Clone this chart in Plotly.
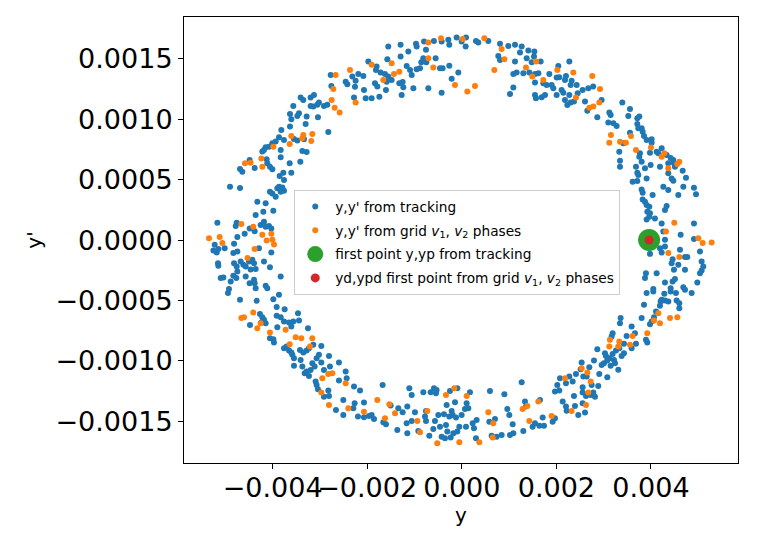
import numpy as np
import plotly.graph_objects as go

# values, in units of 1e-3 (m, rad)
# y,y' from tracking
y_track = [
    -1.976, -2.772, -2.314, -2.187, -2.082, -2.455, -2.420, -2.244, -2.258, -2.758,
    -2.279, -2.068, -2.032, -3.407, -3.351, -3.196, -3.125, -3.196, -3.140, -3.055,
    -3.020, -2.914, -2.843, -3.562, -3.442, -3.477, -3.632, -3.280, -3.041, -3.604,
    -3.301, -2.822, -3.632, -3.815, -3.759, -3.548, -3.477, -3.336, -3.935, -3.864,
    -4.005, -4.076, -4.146, -4.182, -4.217, -3.829, -3.371, -3.280, -3.414, -4.485,
    -4.126, -4.112, -4.056, -4.005, -3.829, -4.689, -4.640, -4.379, -3.639, -3.604,
    -3.773, -3.851, -3.759, -3.864, -3.900, -3.794, -3.759, -3.829, -4.056, -4.005,
    -3.935, -4.900, -4.689, -4.323, -4.146, -4.196, -3.985, -4.358, -5.168, -4.759,
    -4.780, -4.485, -4.253, -4.182, -4.146, -4.076, -4.027,
    # top
    -1.554, -1.294, -0.968, -0.954, -0.798, -0.589, -0.426, -0.285, -0.264, -0.109,
    0.089, -0.003, 0.082, 0.300, 0.349, 0.561, 0.808, 0.984, 1.125, 1.266,
    0.772, 0.808, 1.125, 1.231, 1.372, 1.407, 1.534, 1.527, 1.478, 1.668,
    1.090, 1.160, 1.301, 1.428, 1.548, 1.619, 1.851, 1.548, 1.724, 1.795,
    1.090, 1.020, 1.548, 1.569, 1.689, 1.760, -1.574, -1.800, -1.815, -1.716,
    -1.624, -1.554, -1.483, -1.588, -1.836, -1.786, -1.603, -1.321, -1.250, -1.236,
    -1.271, -1.906, -1.743, -1.294, -1.130, -1.165, -1.094, -1.059, -0.954, -0.884,
    -0.814, -0.757, -0.856, -0.750, -0.553, -0.461, -0.405, -0.264, -0.214, -0.073,
    -1.024, -0.707, -0.426,
    # top right
    2.274, 2.041, 2.006, 2.062, 2.182, 2.203, 2.323, 2.302, 2.429, 1.900,
    1.935, 2.006, 2.111, 2.147, 2.274, 2.450, 2.555, 2.675, 2.778, 2.182,
    2.231, 2.302, 2.372, 2.605, 2.957, 2.654, 2.865, 3.119, 3.147, 3.394,
    3.556, 3.521, 3.711, 3.754, 3.098, 3.206, 3.274, 3.711, 3.732, 3.803,
    3.824, 3.853, 3.556, 3.908, 4.014, 4.014, 3.415, 3.330, 3.767, 3.753,
    3.803, 3.979, 4.120, 4.155, 4.226, 4.331, 4.416, 4.472, 4.366, 4.486,
    3.345, 3.345, 3.683, 3.873, 3.993, 4.190, 3.711, 3.732, 3.908, 3.612,
    3.711, 4.366, 4.437, 4.472, 4.507, 4.670, 4.740, 4.261, 4.366, 4.684,
    4.909, 4.952, 4.578, 3.803, 3.824, 4.035, 3.824, 3.873, 3.908, 3.964,
    4.296, 4.331, 3.923, 3.979, 3.908, 3.964, 4.084, 4.226, 4.909,
    # bottom left
    -4.745, -4.590, -4.379, -5.224, -5.252, -5.182, -5.147, -5.013, -4.830, -4.745,
    -4.815, -5.154, -5.147, -4.815, -4.759, -4.675, -4.618, -4.569, -4.499, -4.428,
    -4.393, -4.464, -4.358, -4.288, -4.182, -4.027, -4.056, -3.829, -4.745, -4.830,
    -4.766, -5.098, -5.041, -4.886, -4.569, -4.393, -4.379, -4.485, -4.358, -4.146,
    -4.112, -4.922, -4.943, -4.689, -4.337, -3.985, -3.865, -3.914, -3.745, -4.267,
    -4.217, -4.182, -4.238, -4.146, -4.478, -3.914, -3.829, -3.759, -3.653, -3.604,
    -3.562, -3.463, -3.442, -3.900, -3.252, -4.056, -3.985, -3.971, -3.759, -3.703,
    -3.653, -3.583, -3.548, -3.548, -3.604, -3.421, -3.351, -3.280, -3.231, -3.140,
    -2.970, -3.407, -3.371, -3.322, -3.231, -3.280, -3.196, -3.160, -3.111, -3.069,
    -3.020, -2.970, -2.914, -2.808, -2.787, -2.597, -2.455, -2.434, -2.597, -3.090,
    -3.069, -3.041, -2.822, -2.808, -2.914, -2.279, -2.152, -2.505, -2.265, -2.068,
    -2.660, -2.293, -2.505, -2.195, -2.068, -1.962,
    # bottom
    -1.906, -1.856, -1.673, -1.659, -1.603, -1.504, -1.363, -1.342, -1.250, -1.166,
    -1.152, -1.152, -1.109, -1.059, -1.059, -0.990, -0.919, -0.813, -0.778, -0.757,
    -0.757, -0.687, -0.658, -0.602, -0.588, -0.546, -0.532, -0.567, -0.496, -0.461,
    -0.426, -0.377, -0.355, -0.334, -0.320, -0.306, -0.264, -0.250, -0.235, -0.214,
    -0.193, -0.178, -0.144, -0.122, -0.094, -0.094, -0.052, -0.003, 0.067, 0.089,
    0.103, 0.138, 0.173, 0.230, 0.258, 0.300, 0.314, 0.596, 0.582, 0.631,
    0.702, 0.737, 0.843, 0.900, 0.963, 1.005, 1.019, 1.090, 1.076, 1.266,
    1.301, 1.336, 1.357, 1.498, 1.548, 1.654, 1.640, 1.710, 1.738,
    # bottom right
    4.261, 4.296, 4.296, 4.190, 3.979, 4.226, 4.458, 4.437, 4.486, 4.578,
    4.613, 4.719, 4.768, 4.627, 4.909, 5.036, 5.071, 5.106, 5.071, 5.036,
    4.719, 3.894, 3.873, 4.120, 4.296, 4.458, 4.507, 4.416, 4.416, 4.528,
    4.684, 4.719, 4.860, 4.980, 3.908, 4.049, 4.049, 4.282, 4.226, 4.204,
    4.296, 4.367, 4.543, 4.599, 4.599, 4.190, 3.852, 4.106, 4.064, 4.014,
    3.979, 3.803, 3.358, 3.345, 3.591, 3.661, 3.485, 3.894, 3.922, 3.683,
    3.591, 3.429, 3.330, 3.189, 3.168, 3.429, 3.380, 3.260, 3.189, 3.119,
    3.218, 3.239, 3.027, 3.048, 3.006, 2.957, 3.076, 3.309, 3.147, 2.865,
    2.795, 2.907, 3.077, 2.534, 2.414, 2.513, 2.570, 2.640, 2.696, 2.746,
    2.886, 2.273, 2.203, 2.077, 2.020, 2.062, 1.970, 2.344, 2.555, 2.555,
    2.626, 2.725, 2.816, 2.781, 2.372, 2.133, 2.203, 2.217, 2.393, 2.463,
    2.605, 2.555, 1.921, 1.970,
]
yp_track = [
    1.477, 1.367, 1.353, 1.375, 1.358, 1.311, 1.289, 1.319, 1.269, 1.275,
    1.179, 1.242, 1.173, 1.179, 1.160, 1.179, 1.201, 1.110, 1.105, 1.119,
    1.138, 1.110, 1.119, 1.110, 1.049, 1.027, 1.044, 1.022, 1.016, 0.999,
    0.961, 0.895, 0.939, 0.911, 0.828, 0.837, 0.823, 0.834, 0.815, 0.850,
    0.801, 0.773, 0.768, 0.746, 0.732, 0.746, 0.737, 0.729, 0.649, 0.663,
    0.668, 0.635, 0.607, 0.585, 0.685, 0.588, 0.566, 0.596, 0.635, 0.558,
    0.558, 0.530, 0.497, 0.442, 0.428, 0.436, 0.408, 0.400, 0.400, 0.386,
    0.359, 0.442, 0.431, 0.317, 0.304, 0.234, 0.243, 0.207, 0.143, 0.143,
    0.116, 0.096, 0.124, 0.152, 0.110, 0.116, 0.096,
    # top
    1.602, 1.616, 1.624, 1.602, 1.643, 1.648, 1.643, 1.657, 1.616, 1.676,
    1.676, 1.643, 1.602, 1.648, 1.635, 1.648, 1.624, 1.607, 1.616, 1.602,
    1.524, 1.491, 1.477, 1.552, 1.505, 1.568, 1.560, 1.519, 1.472, 1.477,
    1.375, 1.386, 1.381, 1.386, 1.375, 1.381, 1.375, 1.303, 1.298, 1.283,
    1.262, 1.209, 1.201, 1.173, 1.182, 1.201, 1.497, 1.436, 1.408, 1.386,
    1.375, 1.353, 1.325, 1.311, 1.298, 1.270, 1.242, 1.298, 1.309, 1.265,
    1.201, 1.173, 1.187, 1.519, 1.560, 1.441, 1.408, 1.367, 1.414, 1.422,
    1.505, 1.574, 1.472, 1.472, 1.505, 1.422, 1.422, 1.442, 1.334, 1.386,
    1.256, 1.256, 1.220,
    # top right
    1.477, 1.441, 1.345, 1.348, 1.325, 1.358, 1.319, 1.284, 1.284, 1.284,
    1.256, 1.201, 1.242, 1.220, 1.201, 1.215, 1.242, 1.256, 1.270, 1.160,
    1.118, 1.138, 1.146, 1.146, 1.160, 1.071, 1.016, 1.055, 1.035, 1.138,
    1.085, 1.027, 1.008, 1.022, 0.972, 0.966, 0.944, 0.961, 0.925, 0.925,
    0.897, 0.861, 0.889, 0.828, 0.834, 0.806, 0.801, 0.731, 0.718, 0.690,
    0.649, 0.723, 0.731, 0.718, 0.759, 0.704, 0.679, 0.663, 0.635, 0.635,
    0.657, 0.607, 0.607, 0.594, 0.621, 0.607, 0.558, 0.538, 0.510, 0.483,
    0.488, 0.552, 0.510, 0.491, 0.607, 0.574, 0.516, 0.441, 0.414, 0.441,
    0.433, 0.380, 0.372, 0.419, 0.392, 0.372, 0.336, 0.317, 0.290, 0.276,
    0.248, 0.281, 0.234, 0.221, 0.171, 0.193, 0.179, 0.138, 0.138,
    # bottom left
    0.025, 0.052, 0.072, -0.039, -0.086, -0.102, -0.075, -0.067, -0.108, -0.094,
    -0.031, -0.191, -0.213, -0.191, -0.218, -0.177, -0.205, -0.218, -0.177, -0.163,
    -0.191, -0.243, -0.240, -0.067, -0.177, -0.102, -0.224, -0.301, -0.260, -0.296,
    -0.315, -0.315, -0.310, -0.343, -0.301, -0.329, -0.357, -0.357, -0.398, -0.378,
    -0.398, -0.406, -0.439, -0.495, -0.503, -0.489, -0.453, -0.555, -0.572, -0.611,
    -0.638, -0.660, -0.683, -0.688, -0.702, -0.627, -0.638, -0.674, -0.683, -0.716,
    -0.674, -0.605, -0.666, -0.721, -0.729, -0.812, -0.821, -0.848, -0.895, -0.881,
    -0.915, -0.950, -0.978, -1.041, -0.931, -0.909, -0.931, -0.915, -0.895, -0.867,
    -0.876, -0.992, -1.047, -1.102, -1.124, -1.088, -1.075, -1.019, -1.047, -0.978,
    -0.950, -1.014, -1.075, -0.959, -1.047, -1.014, -1.088, -1.144, -1.163, -1.171,
    -1.199, -1.235, -1.246, -1.290, -1.296, -1.212, -1.246, -1.323, -1.351, -1.345,
    -1.406, -1.392, -1.447, -1.461, -1.467, -1.456,
    # bottom
    -1.448, -1.481, -1.199, -1.508, -1.525, -1.370, -1.572, -1.392, -1.425, -1.516,
    -1.599, -1.378, -1.227, -1.282, -1.497, -1.425, -1.580, -1.260, -1.461, -1.414,
    -1.497, -1.619, -1.260, -1.563, -1.227, -1.268, -1.240, -1.497, -1.448, -1.544,
    -1.627, -1.442, -1.641, -1.530, -1.365, -1.585, -1.461, -1.249, -1.635, -1.414,
    -1.448, -1.599, -1.342, -1.469, -1.227, -1.585, -1.544, -1.448, -1.398, -1.544,
    -1.351, -1.392, -1.260, -1.516, -1.558, -1.641, -1.489, -1.249, -1.503, -1.619,
    -1.481, -1.627, -1.613, -1.276, -1.398, -1.448, -1.613, -1.599, -1.525, -1.177,
    -1.580, -1.337, -1.378, -1.544, -1.516, -1.323, -1.536, -1.469, -1.536,
    # bottom right
    0.071, 0.002, -0.053, -0.067, -0.114, -0.103, -0.158, -0.191, -0.246, -0.205,
    -0.080, -0.141, -0.141, 0.044, 0.008, -0.094, -0.177, -0.218, -0.252, -0.274,
    -0.246, -0.274, -0.315, -0.274, -0.351, -0.343, -0.323, -0.398, -0.425, -0.439,
    -0.390, -0.412, -0.439, -0.351, -0.439, -0.406, -0.425, -0.445, -0.494, -0.508,
    -0.500, -0.508, -0.500, -0.522, -0.564, -0.544, -0.536, -0.591, -0.638, -0.674,
    -0.696, -0.646, -0.646, -0.688, -0.716, -0.771, -0.793, -0.826, -0.848, -0.859,
    -0.895, -0.859, -0.895, -0.771, -0.798, -0.936, -0.959, -0.914, -0.942, -0.978,
    -0.992, -1.019, -0.936, -0.959, -1.019, -1.033, -0.997, -1.074, -1.041, -0.903,
    -0.997, -1.108, -1.135, -1.014, -1.108, -1.069, -1.130, -1.130, -1.053, -1.199,
    -1.207, -1.130, -1.185, -1.143, -1.199, -1.246, -1.254, -1.171, -1.218, -1.262,
    -1.290, -1.282, -1.296, -1.262, -1.290, -1.337, -1.378, -1.412, -1.373, -1.447,
    -1.428, -1.351, -1.503, -1.475,
]

# y,y' from grid v1, v2 phases
y_grid = [
    -2.667, -2.364, -2.716, -2.751, -2.244, -2.688, -2.582, -3.604, -3.351, -3.371,
    -3.160, -3.182, -3.639, -3.985, -4.584, -4.464, -4.238, -4.217, -4.661, -4.408,
    -0.707, -0.440, 0.018, 0.476, 0.843, 0.900, -0.707, -0.602, -1.483, -1.906,
    -1.434, -1.321, -1.659, -0.144, 0.117, 0.279, 0.688, 1.357, 1.491, 1.569,
    1.724,
    2.020, 2.358, 2.760, 2.922, 2.908, 2.781, 2.696, 2.414, 3.154, 3.119,
    3.345, 3.471, 3.577, 3.683, 4.000, 4.226, 4.282, 4.599, 4.557, 4.366,
    4.493,
    -5.344, -5.119, -5.063, -4.217, -4.027, -4.126, -4.005, -3.970, -4.379, -4.530,
    -4.661, -4.604, -4.408, -4.253, -4.323, -4.056, -3.724, -3.512, -3.393, -3.160,
    -3.209, -3.639, -2.822, -2.737, -2.949, -2.455, -2.970, -2.808, -2.399, -2.068,
    -1.786, -1.624, -1.532, -1.412, -0.940, -0.884, -0.729, -0.518, -0.334, -0.158,
    -0.052, 0.103, 0.371, 0.561, 0.666, 0.652, 1.287, 1.385, 1.428, 1.618,
    4.317, 4.367, 4.599, 5.001, 5.093, 5.283, 4.064, 4.156, 4.190, 4.402,
    4.557, 3.922, 3.133, 3.119, 3.330, 3.309, 3.612, 3.556, 2.534, 2.654,
    2.725, 2.675, 2.626, 2.323, 2.182, 1.900,
]
yp_grid = [
    1.367, 1.408, 1.251, 1.160, 1.138, 1.096, 1.055, 0.861, 0.870, 0.842,
    0.878, 0.820, 0.795, 0.773, 0.635, 0.640, 0.676, 0.607, 0.132, 0.110,
    1.635, 1.671, 1.663, 1.671, 1.582, 1.497, 1.505, 1.428, 1.464, 1.450,
    1.375, 1.392, 1.325, 1.284, 1.229, 1.276, 1.408, 1.428, 1.353, 1.477,
    1.325,
    1.408, 1.386, 1.358, 1.251, 1.138, 1.105, 1.096, 1.179, 0.870, 0.806,
    0.814, 0.806, 0.861, 0.746, 0.765, 0.690, 0.718, 0.649, 0.630, 0.594,
    0.143,
    0.016, 0.025, -0.025, 0.044, 0.052, -0.003, 0.002, -0.036, -0.075, -0.149,
    -0.646, -0.638, -0.600, -0.688, -0.729, -0.765, -0.743, -0.804, -0.812, -0.812,
    -0.881, -0.862, -1.108, -1.102, -1.144, -1.185, -1.262, -1.364, -1.392, -1.420,
    -1.323, -1.475, -1.359, -1.434, -1.497, -1.591, -1.414, -1.682, -1.282, -1.227,
    -1.674, -1.290, -1.674, -1.425, -1.516, -1.635, -1.398, -1.373, -1.497, -1.337,
    0.071, -0.108, -0.141, 0.016, -0.025, -0.020, -0.666, -0.605, -0.688, -0.646,
    -0.638, -0.771, -0.826, -0.881, -0.840, -0.881, -0.793, -0.867, -1.061, -1.097,
    -1.171, -1.262, -1.364, -1.414, -1.143, -1.456,
]

# first points
y_first_track = [3.96]
yp_first_track = [0.0]
y_first_grid = [3.96]
yp_first_grid = [0.0]

x_ticks = [-0.004, -0.002, 0.0, 0.002, 0.004]
x_ticklabels = ["\u22120.004", "\u22120.002", "0.000", "0.002", "0.004"]
y_ticks = [-0.0015, -0.0010, -0.0005, 0.0, 0.0005, 0.0010, 0.0015]
y_ticklabels = ["\u22120.0015", "\u22120.0010", "\u22120.0005", "0.0000",
                "0.0005", "0.0010", "0.0015"]

scale = 1e-3
fnt = "DejaVu Sans"

fig = go.Figure()
fig.add_trace(go.Scatter(
    x=np.array(y_track) * scale, y=np.array(yp_track) * scale,
    mode="markers", name="y,y' from tracking", legendgroup="a",
    marker=dict(color="#1f77b4", size=6, line=dict(width=0)),
))
fig.add_trace(go.Scatter(
    x=np.array(y_grid) * scale, y=np.array(yp_grid) * scale,
    mode="markers", name="y,y' from grid <i>v</i><sub>1</sub>, <i>v</i><sub>2</sub> phases",
    legendgroup="b",
    marker=dict(color="#ff7f0e", size=6, line=dict(width=0)),
))
fig.add_trace(go.Scatter(
    x=np.array(y_first_track) * scale, y=np.array(yp_first_track) * scale,
    mode="markers", name="first point y,yp from tracking", legendgroup="c",
    marker=dict(color="#2ca02c", size=22, line=dict(width=0)),
))
fig.add_trace(go.Scatter(
    x=np.array(y_first_grid) * scale, y=np.array(yp_first_grid) * scale,
    mode="markers", name="yd,ypd first point from grid <i>v</i><sub>1</sub>, <i>v</i><sub>2</sub> phases",
    legendgroup="d",
    marker=dict(color="#d62728", size=9, line=dict(width=0)),
))

axis_style = dict(
    showline=True, linecolor="black", linewidth=1, mirror=True,
    ticks="outside", ticklen=5, tickwidth=1, tickcolor="black",
    showgrid=False, zeroline=False, automargin=False,
    tickfont=dict(family=fnt, size=27, color="black"),
)

# the page body adds 8px around the figure, so the figure is 16px smaller
fig.update_layout(
    width=753, height=537,
    margin=dict(l=176, r=23, t=9, b=82),
    plot_bgcolor="white", paper_bgcolor="white",
    font=dict(family=fnt, color="black"),
    xaxis=dict(axis_style, range=[-5.873e-3, 5.84e-3], tickvals=x_ticks,
               ticktext=x_ticklabels, tickangle=0, ticklabelstandoff=-4,
               title=dict(text="y", font=dict(family=fnt, size=20), standoff=0)),
    yaxis=dict(axis_style, range=[-1.845e-3, 1.846e-3], tickvals=y_ticks,
               ticktext=y_ticklabels,
               title=dict(text="y'", font=dict(family=fnt, size=20), standoff=8)),
    legend=dict(x=0.199, y=0.612, xanchor="left", yanchor="top",
                bgcolor="rgba(255,255,255,0.8)", bordercolor="#cccccc", borderwidth=1,
                font=dict(family=fnt, size=13.7, color="black"), itemsizing="trace",
                tracegroupgap=3),
    showlegend=True,
)

fig.write_html("out.html")
